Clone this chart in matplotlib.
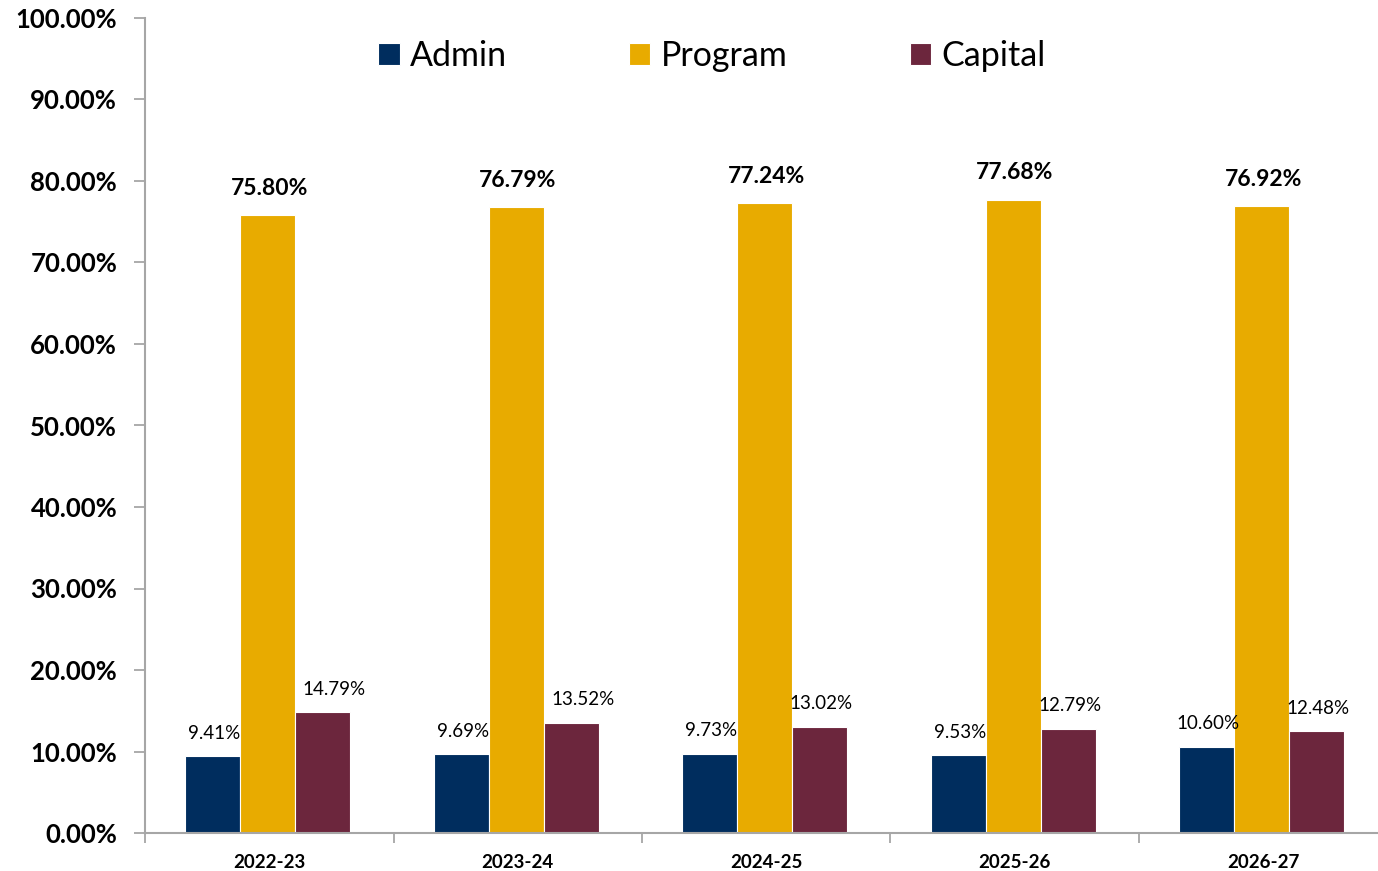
import matplotlib
matplotlib.use("Agg")
import matplotlib.pyplot as plt
import numpy as np
from matplotlib.ticker import FixedLocator, PercentFormatter

plt.rcParams["font.family"] = ["Lato", "DejaVu Sans"]

# ── data ────────────────────────────────────────────────────────────────
years = ["2022-23", "2023-24", "2024-25", "2025-26", "2026-27"]
series = ["Admin", "Program", "Capital"]
admin = [9.41, 9.69, 9.73, 9.53, 10.60]
program = [75.80, 76.79, 77.24, 77.68, 76.92]
capital = [14.79, 13.52, 13.02, 12.79, 12.48]

colors = ["#002D5E", "#E8AB00", "#6C263D"]

fig = plt.figure(figsize=(13.78, 8.71), dpi=100)
ax = fig.add_axes([145 / 1378, 38 / 871, 1242.5 / 1378, 815 / 871])

x = np.arange(len(years))
width = 0.2213
offsets = [-width, 0, width]
# small horizontal nudges (pixels) for a few labels, as in the original
nudge = {(2, 0): 10, (2, 1): 10}

handles = []
for s, (name, vals, col) in enumerate(zip(series, [admin, program, capital], colors)):
    bars = ax.bar(x + offsets[s] - 0.006, vals, width, color=col, edgecolor="white",
                  linewidth=0.8, label=name, zorder=2)
    handles.append(bars)
    for i, v in enumerate(vals):
        bold = s == 1
        ax.annotate(f"{v:.2f}%", (x[i] + offsets[s], v),
                    xytext=(nudge.get((s, i), 0), 27 if bold else 23),
                    textcoords="offset pixels", ha="center", va="center",
                    fontsize=16.5 if bold else 13.5,
                    fontweight="bold" if bold else "normal", color="black")

ax.set_xlim(-0.5, 4.5)
ax.set_ylim(0, 100)
ax.yaxis.set_major_locator(FixedLocator(np.arange(0, 101, 10)))
ax.yaxis.set_major_formatter(PercentFormatter(decimals=2))

ax.set_xticks(x)
ax.set_xticklabels(years, fontsize=13.5, fontweight="bold")
ax.set_xticks(np.arange(-0.5, 4.6, 1), minor=True)
ax.tick_params(axis="x", which="major", length=0, pad=15)
ax.tick_params(axis="x", which="minor", length=7, width=1.3, color="#A6A6A6",
               direction="out")
ax.tick_params(axis="y", length=8, width=1.3, color="#A6A6A6", pad=12,
               labelsize=18.5)
for lab in ax.get_yticklabels():
    lab.set_fontweight("bold")

for side in ["top", "right"]:
    ax.spines[side].set_visible(False)
for side in ["left", "bottom"]:
    ax.spines[side].set_color("#A6A6A6")
    ax.spines[side].set_linewidth(1.5)

fig.legend(handles=handles, labels=series, loc="center",
           bbox_to_anchor=(712 / 1378, 1 - 56 / 871), ncol=3, frameon=False,
           fontsize=24.5, handlelength=0.62, handleheight=0.62, handletextpad=0.3,
           columnspacing=3.6)

fig.savefig("out.png", dpi=100)
